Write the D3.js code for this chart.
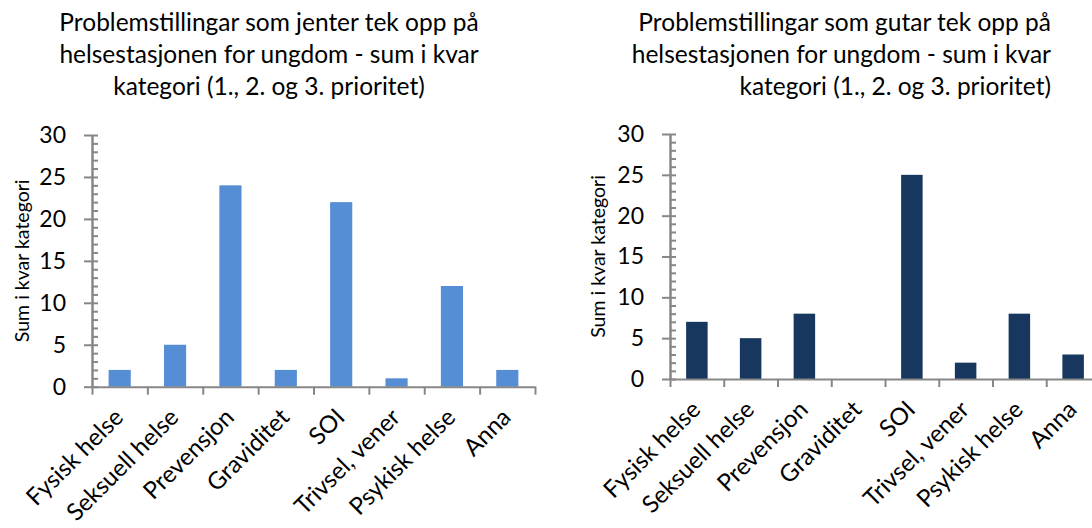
<!DOCTYPE html>
<html>
<head>
<meta charset="utf-8">
<script src="https://cdn.jsdelivr.net/npm/d3@7"></script>
<style>
    html, body { margin: 0; padding: 0; background: #fff; }
    svg text { font-family: Lato, "Open Sans", sans-serif; fill: #000; }
</style>
</head>
<body>
<svg id="chart" width="1092" height="528"></svg>
<script>
// Categories shared by both charts
const categories = ['Fysisk helse', 'Seksuell helse', 'Prevensjon', 'Graviditet', 'SOI', 'Trivsel, vener', 'Psykisk helse', 'Anna'];

// Values
const jenterValues = [2, 5, 24, 2, 22, 1, 12, 2];
const gutarValues = [7, 5, 8, 0, 25, 2, 8, 3];

// Y axis
const yMajorTicks = [0, 5, 10, 15, 20, 25, 30];
const yMinorTicks = d3.range(0, 31, 1);
const yMax = 30;

const yLabel = 'Sum i kvar kategori';
const jenterTitle = ['Problemstillingar som jenter tek opp på', 'helsestasjonen for ungdom - sum i kvar', 'kategori (1., 2. og 3. prioritet)'];
const gutarTitle = ['Problemstillingar som gutar tek opp på', 'helsestasjonen for ungdom - sum i kvar', 'kategori (1., 2. og 3. prioritet)'];

const svg = d3.select('#chart');

drawChart({
    values: jenterValues,
    title: jenterTitle,
    color: '#558ed5',
    x0: 92, x1: 535,
    yTop: 135, yBottom: 386.7,
    titleX: 269, titleAnchor: 'middle',
    labelX: 22
});

drawChart({
    values: gutarValues,
    title: gutarTitle,
    color: '#17375e',
    x0: 670, x1: 1100,
    yTop: 134, yBottom: 379,
    titleX: 1051, titleAnchor: 'end',
    labelX: 598
});

function drawChart(cfg) {
    const g = svg.append('g');

    // Titre
    const title = g.append('text')
        .attr('text-anchor', cfg.titleAnchor)
        .style('font-size', '24.5px');
    cfg.title.forEach((line, i) => {
        title.append('tspan')
            .attr('x', cfg.titleX)
            .attr('y', 31 + i * 32)
            .text(line);
    });

    // Echelles
    const x = d3.scaleBand()
        .domain(categories)
        .range([cfg.x0, cfg.x1])
        .paddingInner(0.6)
        .paddingOuter(0.3);

    const xEdges = d3.scaleLinear()
        .domain([0, categories.length])
        .range([cfg.x0, cfg.x1]);

    const y = d3.scaleLinear()
        .domain([0, yMax])
        .range([cfg.yBottom, cfg.yTop]);

    // Barres
    g.selectAll('.bar')
        .data(cfg.values)
        .enter()
        .append('rect')
        .attr('class', 'bar')
        .attr('x', (d, i) => x(categories[i]))
        .attr('y', d => y(d))
        .attr('width', x.bandwidth())
        .attr('height', d => y(0) - y(d))
        .attr('fill', cfg.color);

    // Axe Y : graduations majeures (croisées) + mineures
    const yAxis = g.append('g')
        .attr('transform', `translate(${cfg.x0},0)`)
        .call(d3.axisLeft(y).tickValues(yMajorTicks).tickSizeInner(8).tickSizeOuter(0).tickPadding(18));

    g.append('g')
        .attr('transform', `translate(${cfg.x0},0)`)
        .call(d3.axisRight(y).tickValues(yMinorTicks).tickSize(6).tickSizeOuter(0).tickFormat(''));

    yAxis.selectAll('text')
        .style('font-size', '23px')
        .style('font-family', 'Lato, sans-serif');

    // Axe X : graduations entre les catégories
    g.append('g')
        .attr('transform', `translate(0,${cfg.yBottom})`)
        .call(d3.axisBottom(xEdges).tickValues(d3.range(0, categories.length + 1)).tickSize(8).tickSizeOuter(0).tickFormat(''));

    g.selectAll('.domain, .tick line')
        .style('stroke', '#878787')
        .style('stroke-width', '2px');

    // Libellés des catégories (rotation -45)
    g.selectAll('.cat-label')
        .data(categories)
        .enter()
        .append('text')
        .attr('class', 'cat-label')
        .attr('text-anchor', 'end')
        .attr('transform', d => `translate(${x(d) + x.bandwidth() / 2 + 5},${cfg.yBottom + 32}) rotate(-45)`)
        .style('font-size', '24px')
        .text(d => d);

    // Titre de l'axe Y
    g.append('text')
        .attr('transform', `translate(${cfg.labelX},${(cfg.yTop + cfg.yBottom) / 2}) rotate(-90)`)
        .attr('text-anchor', 'middle')
        .attr('dy', '0.35em')
        .style('font-size', '19.5px')
        .text(yLabel);
}
</script>
</body>
</html>
